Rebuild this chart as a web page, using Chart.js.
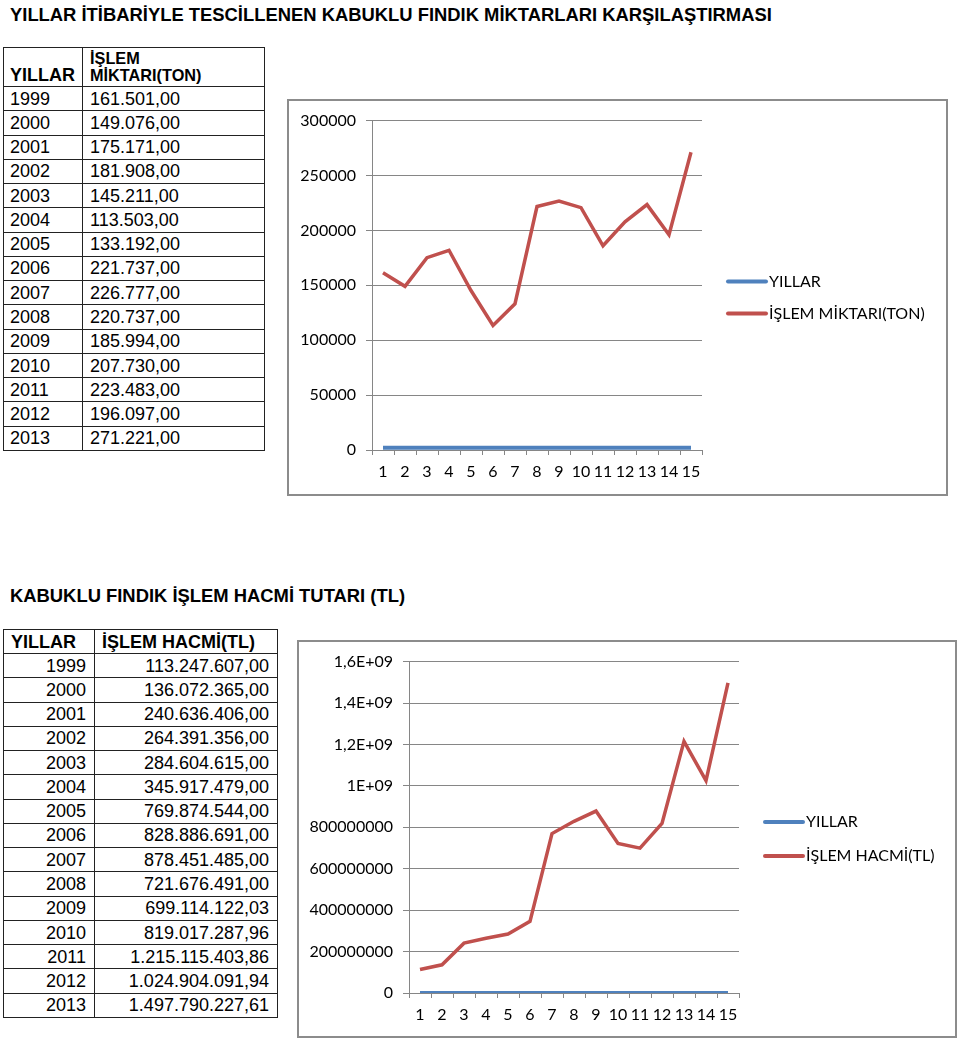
<!DOCTYPE html>
<html>
<head>
<meta charset="utf-8">
<script src="https://cdn.jsdelivr.net/npm/chart.js@4/dist/chart.umd.min.js"></script>
<style>
  body { margin: 0; background: #fff; width: 960px; height: 1041px; position: relative; font-family: "Liberation Sans", Arial, sans-serif; color: #000; }
  .title { position: absolute; font-weight: bold; font-size: 18.4px; white-space: nowrap; }
  table { position: absolute; border-collapse: collapse; font-size: 18px; table-layout: fixed; }
  td, th { border: 1px solid #222; padding: 0; line-height: 1; overflow: hidden; white-space: nowrap; }
  .chart-box { position: absolute; border: 2px solid #8c8c8c; box-sizing: border-box; background: #fff; }
  .chart-box canvas { display: block; }
</style>
</head>
<body>
<div class="title" style="left:10px; top:4px;">YILLAR İTİBARİYLE TESCİLLENEN KABUKLU FINDIK MİKTARLARI KARŞILAŞTIRMASI</div>
<table id="table1" style="left:3px; top:47px; width:261px;">
  <colgroup><col style="width:79px"><col style="width:182px"></colgroup>
  <tr style="height:39px">
    <th style="text-align:left; vertical-align:bottom; padding:0 0 2px 6px;">YILLAR</th>
    <th style="text-align:left; vertical-align:bottom; padding:0 0 2px 7px; font-size:16.3px; line-height:17px;">İŞLEM<br>MİKTARI(TON)</th>
  </tr>
</table>
<div class="chart-box" style="left:287px; top:99px; width:661px; height:397px;"><canvas id="chart1"></canvas></div>

<div class="title" style="left:10px; top:585px;">KABUKLU FINDIK İŞLEM HACMİ TUTARI (TL)</div>
<table id="table2" style="left:3px; top:629px; width:274px;">
  <colgroup><col style="width:91px"><col style="width:183px"></colgroup>
  <tr style="height:24px">
    <th style="text-align:left; padding-left:7px;">YILLAR</th>
    <th style="text-align:left; padding-left:7px;">İŞLEM HACMİ(TL)</th>
  </tr>
</table>
<div class="chart-box" style="left:297px; top:640px; width:660px; height:398px;"><canvas id="chart2"></canvas></div>

<script>
const categories = ["1", "2", "3", "4", "5", "6", "7", "8", "9", "10", "11", "12", "13", "14", "15"];
const years = [1999, 2000, 2001, 2002, 2003, 2004, 2005, 2006, 2007, 2008, 2009, 2010, 2011, 2012, 2013];
const amountTon = [161501, 149076, 175171, 181908, 145211, 113503, 133192, 221737, 226777, 220737, 185994, 207730, 223483, 196097, 271221];
const volumeTl = [113247607, 136072365, 240636406, 264391356, 284604615, 345917479, 769874544, 828886691, 878451485, 721676491, 699114122.03, 819017287.96, 1215115403.86, 1024904091.94, 1497790227.61];
const amountTicks = [0, 50000, 100000, 150000, 200000, 250000, 300000];
const volumeTicks = [0, 200000000, 400000000, 600000000, 800000000, 1000000000, 1200000000, 1400000000, 1600000000];

const blue = "#4f81bd";
const red = "#c0504d";
const gridGray = "#868686";
const chartFont = "Lato, 'Open Sans', sans-serif";

// Turkish style number: 161.501,00
function trNumber(v) {
  const parts = v.toFixed(2).split(".");
  const intPart = parts[0].replace(/\B(?=(\d{3})+(?!\d))/g, ".");
  return intPart + "," + parts[1];
}

function fillTable(id, values, alignRight) {
  const table = document.getElementById(id);
  years.forEach((y, i) => {
    const tr = document.createElement("tr");
    tr.style.height = "24.27px";
    const a = document.createElement("td");
    const b = document.createElement("td");
    a.textContent = y;
    b.textContent = trNumber(values[i]);
    if (alignRight) {
      a.style.textAlign = "right"; a.style.paddingRight = "8px";
      b.style.textAlign = "right"; b.style.paddingRight = "8px";
    } else {
      a.style.paddingLeft = "6px";
      b.style.paddingLeft = "7px";
    }
    tr.appendChild(a);
    tr.appendChild(b);
    table.appendChild(tr);
  });
}
fillTable("table1", amountTon, false);
fillTable("table2", volumeTl, true);

// legend drawn to the right of the plot, lines + labels like the office chart
const sideLegend = {
  id: "sideLegend",
  afterDraw: chart => {
    const ctx = chart.ctx;
    const opts = chart.options.plugins.sideLegend;
    const x0 = chart.chartArea.right + opts.gap;
    const midY = chart.height / 2;
    chart.data.datasets.forEach((ds, i) => {
      const y = midY + (i === 0 ? -opts.spacing / 2 : opts.spacing / 2);
      ctx.save();
      ctx.strokeStyle = ds.borderColor;
      ctx.lineWidth = 4;
      ctx.lineCap = "round";
      ctx.beginPath();
      ctx.moveTo(x0, y);
      ctx.lineTo(x0 + opts.lineLength, y);
      ctx.stroke();
      ctx.fillStyle = "#000";
      ctx.font = "16px " + chartFont;
      ctx.textBaseline = "middle";
      ctx.fillText(ds.label, x0 + opts.lineLength + 3, y);
      ctx.restore();
    });
  }
};

function makeChart(canvasId, label, values, tickValues, maxVal, yWidth, xHeight, pad, tickFmt, legendSpacing) {
  return new Chart(document.getElementById(canvasId), {
    type: "line",
    plugins: [sideLegend],
    data: {
      labels: categories,
      datasets: [
        { label: "YILLAR", data: years, borderColor: blue, backgroundColor: blue, borderWidth: 4, pointRadius: 0, tension: 0 },
        { label: label, data: values, borderColor: red, backgroundColor: red, borderWidth: 3.5, pointRadius: 0, tension: 0 }
      ]
    },
    options: {
      animation: false,
      responsive: true,
      maintainAspectRatio: false,
      layout: { padding: pad },
      plugins: {
        legend: { display: false },
        tooltip: { enabled: false },
        sideLegend: { gap: 26, lineLength: 38, spacing: legendSpacing }
      },
      scales: {
        x: {
          offset: true,
          afterFit: scale => { scale.height = xHeight; },
          grid: { offset: true, drawOnChartArea: false, drawTicks: true, tickLength: 5, color: gridGray },
          border: { color: gridGray },
          ticks: { color: "#000", font: { family: chartFont, size: 16 }, padding: 7, maxRotation: 0, autoSkip: false }
        },
        y: {
          min: 0,
          max: maxVal,
          afterFit: scale => { scale.width = yWidth; },
          afterBuildTicks: scale => { scale.ticks = tickValues.map(v => ({ value: v })); },
          grid: { color: gridGray, tickLength: 6 },
          border: { color: gridGray },
          ticks: { color: "#000", font: { family: chartFont, size: 16 }, padding: 10, callback: tickFmt }
        }
      }
    }
  });
}

makeChart("chart1", "İŞLEM MİKTARI(TON)", amountTon, amountTicks, 300000, 83, 44,
  { top: 19, right: 244, left: 0, bottom: 0 }, v => String(v), 32);

makeChart("chart2", "İŞLEM HACMİ(TL)", volumeTl, volumeTicks, 1600000000, 110, 43,
  { top: 18, right: 216, left: 0, bottom: 0 },
  v => v >= 1e9 ? String(v / 1e9).replace(".", ",") + "E+09" : String(v), 34);
</script>
</body>
</html>
